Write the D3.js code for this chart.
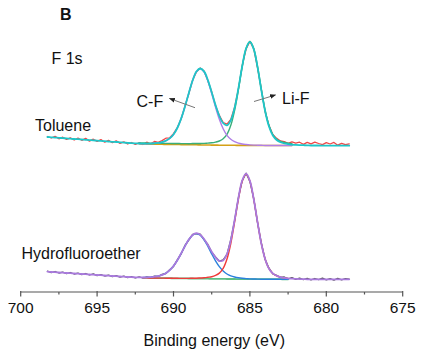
<!DOCTYPE html>
<html><head><meta charset="utf-8">
<script src="https://cdn.jsdelivr.net/npm/d3@7"></script>
<style>body{margin:0;background:#fff}svg{display:block}text{font-family:"Liberation Sans",Arial,sans-serif;fill:#111}</style>
</head><body>
<svg id="c" width="428" height="360"></svg>
<script>
// Binding energy grid (eV)
const energy = [698.25,698.0,697.75,697.5,697.25,697.0,696.75,696.5,696.25,696.0,695.75,695.5,695.25,695.0,694.75,694.5,694.25,694.0,693.75,693.5,693.25,693.0,692.75,692.5,692.25,692.0,691.75,691.5,691.25,691.0,690.75,690.5,690.25,690.0,689.75,689.5,689.25,689.0,688.75,688.5,688.25,688.0,687.75,687.5,687.25,687.0,686.75,686.5,686.25,686.0,685.75,685.5,685.25,685.0,684.75,684.5,684.25,684.0,683.75,683.5,683.25,683.0,682.75,682.5,682.25,682.0,681.75,681.5,681.25,681.0,680.75,680.5,680.25,680.0,679.75,679.5,679.25,679.0,678.75,678.5];

// Toluene (offset intensity, a.u.)
const tolueneRaw = [155.5,154.0,155.6,153.2,154.8,152.6,154.1,152.0,153.9,151.7,153.6,150.9,152.8,150.6,152.4,149.8,151.6,149.3,151.1,148.6,150.2,148.0,149.5,147.6,149.2,147.5,149.8,148.0,150.5,149.6,151.4,153.8,154.2,158.3,164.5,173.0,185.9,198.3,211.8,220.0,224.0,220.9,211.3,200.2,186.4,176.6,169.5,167.8,172.5,184.8,203.2,226.5,243.0,250.6,243.4,224.2,202.4,180.0,166.4,157.5,153.6,151.0,150.4,148.6,150.2,148.9,149.8,147.7,149.6,148.2,149.9,148.5,147.4,149.3,148.0,149.6,146.8,148.7,147.3,148.2];
const tolueneBg = [155.0,154.7,154.4,154.2,153.9,153.6,153.3,153.0,152.8,152.5,152.2,151.9,151.6,151.4,151.1,150.8,150.5,150.2,150.0,149.7,149.4,149.1,148.8,148.6,148.3,148.0,147.9,147.8,147.8,147.7,147.7,147.6,147.6,147.5,147.5,147.4,147.4,147.3,147.3,147.2,147.1,147.0,147.0,146.9,146.9,146.8,146.8,146.7,146.7,146.7,146.6,146.6,146.6,146.5,146.5,146.5,146.5,146.5,146.5,146.5,146.5,146.5,146.5,146.5,146.5,146.5,146.5,146.5,146.5,146.5,146.5,146.5,146.4,146.4,146.4,146.4,146.3,146.3,146.3,146.3];
const tolueneCF = [0,0,0,0,0,0,0,0,0,0,0,0,0,0,0,0,0,0,0,0,0,0,0,0,0.2,0.3,0.4,0.6,0.9,1.4,2.2,3.6,6,10,16.5,26,38,51.5,64,73,76,73,64,51.5,38,26,16.5,10,6,3.6,2.2,1.4,0.9,0.6,0.4,0.3,0.2,0,0,0,0,0,0,0,0,0,0,0,0,0,0,0,0,0,0,0,0,0,0,0];
const tolueneLiF = [0,0,0,0,0,0,0,0,0,0,0,0,0,0,0,0,0,0,0,0,0,0,0,0,0,0,0,0,0,0,0,0,0,0,0,0,0,0,0.2,0.3,0.4,0.6,0.9,1.3,2.0,3.2,5.5,10,19,34,55,78,96,103,96,78,55,34,19,10,5.5,3.2,2.0,1.3,0.9,0.6,0.4,0.3,0.2,0,0,0,0,0,0,0,0,0,0,0];

// Hydrofluoroether
const hfeRaw = [20.8,19.4,20.5,19.0,19.9,18.4,19.5,18.0,18.9,17.4,18.5,17.0,18.1,16.4,17.3,16.0,16.9,15.3,16.4,14.9,15.9,14.4,15.4,14.0,15.1,14.0,15.2,14.3,15.9,15.5,17.6,18.5,22.3,25.6,32.2,38.1,46.5,51.8,57.6,58.4,57.8,52.4,47.5,39.9,35.1,30.8,32.2,37.6,52.3,71.6,94.7,111.3,118.8,110.6,93.5,69.4,48.8,32.4,23.8,18.2,16.7,14.5,15.0,13.2,14.4,12.6,13.9,12.3,13.6,12.1,13.5,12.4,13.8,12.2,13.4,11.9,13.6,12.2,13.3,12.9];
const hfeBg = [20.3,20.0,19.8,19.5,19.3,19.0,18.8,18.5,18.3,18.0,17.8,17.5,17.3,17.0,16.8,16.5,16.3,16.0,15.8,15.5,15.3,15.0,14.8,14.6,14.4,14.2,14.1,14.0,14.0,13.9,13.9,13.8,13.8,13.7,13.7,13.6,13.6,13.5,13.5,13.4,13.4,13.3,13.3,13.2,13.2,13.1,13.1,13.0,13.0,13.0,12.9,12.9,12.9,12.8,12.8,12.8,12.8,12.8,12.8,12.8,12.8,12.8,12.7,12.7,12.7,12.7,12.7,12.7,12.7,12.7,12.7,12.7,12.7,12.7,12.7,12.7,12.7,12.7,12.7,12.7];
const hfeCF = [0,0,0,0,0,0,0,0,0,0,0,0,0,0,0,0,0,0,0,0,0,0,0,0.1,0.2,0.3,0.5,0.8,1.3,2,3.2,5,8,12.3,18,25,32.3,38.8,43.3,45,43.3,38.8,32.3,25,18,12.3,8,5,3.2,2,1.3,0.8,0.5,0.3,0.2,0.1,0,0,0,0,0,0,0,0,0,0,0,0,0,0,0,0,0,0,0,0,0,0,0,0];
const hfeLiF = [0,0,0,0,0,0,0,0,0,0,0,0,0,0,0,0,0,0,0,0,0,0,0,0,0,0,0,0,0,0,0,0,0,0,0,0,0,0.15,0.25,0.4,0.6,0.9,1.4,2.1,3.4,5.8,10.5,20,35.5,57,80,98,105,98,80,57,35.5,20,10.5,5.8,3.4,2.1,1.4,0.9,0.6,0.4,0.25,0.15,0,0,0,0,0,0,0,0,0,0,0,0];

const xTicks = [700,695,690,685,680,675];
const xMinorTicks = [697.5,692.5,687.5,682.5,677.5];

const svg = d3.select("#c");
const x = d3.scaleLinear().domain([700,675]).range([20.7,402.7]);
const y = d3.scaleLinear().domain([0,292]).range([292,0]);

function pts(vals){ return energy.map((e,i)=>[e, vals[i]]); }
function sum(...arrs){ return energy.map((e,i)=>arrs.reduce((s,a)=>s+a[i],0)); }
function win(p, hi, lo){ return p.filter(d=>d[0]<=hi && d[0]>=lo); }

const lineRaw = d3.line().x(d=>x(d[0])).y(d=>y(d[1]));
const lineSm = d3.line().x(d=>x(d[0])).y(d=>y(d[1])).curve(d3.curveCatmullRom);

function draw(p, gen, color, w){
  svg.append("path").attr("d", gen(p)).attr("fill","none").attr("stroke",color)
    .attr("stroke-width",w).attr("stroke-linejoin","round").attr("stroke-linecap","round");
}

// Toluene
draw(pts(tolueneRaw), lineRaw, "#f04848", 1.3);
draw(win(pts(tolueneBg),692.25,682.25), lineSm, "#d4a017", 1.6);
draw(win(pts(sum(tolueneBg,tolueneLiF)).map(d=>[d[0],d[1]+1]),692.25,682.25), lineSm, "#3aae7a", 1.4);
draw(win(pts(sum(tolueneBg,tolueneCF)),692.25,682.25), lineSm, "#b07ee6", 1.4);
draw(pts(sum(tolueneBg,tolueneCF,tolueneLiF)), lineSm, "#1ec6c9", 1.8);

// Hydrofluoroether
draw(pts(hfeRaw), lineRaw, "#555555", 1.3);
draw(win(pts(hfeBg),692.0,682.5), lineSm, "#5cbf85", 1.8);
draw(win(pts(sum(hfeBg,hfeCF)),692.0,682.5), lineSm, "#2a80dc", 1.4);
draw(win(pts(sum(hfeBg,hfeLiF)),692.0,682.5), lineSm, "#f03a3a", 1.4);
draw(pts(sum(hfeBg,hfeCF,hfeLiF)), lineSm, "#a97ade", 1.8);

// Axis
const axis = svg.append("g");
axis.append("line").attr("x1",x(700)).attr("x2",x(675)).attr("y1",292).attr("y2",292)
  .attr("stroke","#555").attr("stroke-width",1.2);
xTicks.forEach(t=>{
  axis.append("line").attr("x1",x(t)).attr("x2",x(t)).attr("y1",291).attr("y2",296.5)
    .attr("stroke","#555").attr("stroke-width",1.2);
  axis.append("text").attr("x",x(t)).attr("y",312.5).attr("text-anchor","middle")
    .attr("font-size",15.5).text(t);
});
xMinorTicks.forEach(t=>{
  axis.append("line").attr("x1",x(t)).attr("x2",x(t)).attr("y1",292).attr("y2",294.5)
    .attr("stroke","#555").attr("stroke-width",1.2);
});
svg.append("text").attr("x",214.3).attr("y",345.5).attr("text-anchor","middle")
  .attr("font-size",16).text("Binding energy (eV)");

// Labels
svg.append("text").attr("x",60).attr("y",20).attr("font-size",16).attr("font-weight","bold").text("B");
svg.append("text").attr("x",51.5).attr("y",64).attr("font-size",16).text("F 1s");
svg.append("text").attr("x",35).attr("y",130.5).attr("font-size",16).text("Toluene");
svg.append("text").attr("x",136.5).attr("y",107).attr("font-size",16).text("C-F");
svg.append("text").attr("x",282).attr("y",104).attr("font-size",16).text("Li-F");
svg.append("text").attr("x",21.5).attr("y",258.5).attr("font-size",16).text("Hydrofluoroether");

// Arrows
const defs = svg.append("defs");
defs.append("marker").attr("id","ah").attr("viewBox","0 0 10 10").attr("refX",9).attr("refY",5)
  .attr("markerWidth",6).attr("markerHeight",6).attr("orient","auto")
  .append("path").attr("d","M0,1 L10,5 L0,9 Z").attr("fill","#222");
svg.append("line").attr("x1",195).attr("y1",107.7).attr("x2",169.5).attr("y2",98.5)
  .attr("stroke","#777").attr("stroke-width",1).attr("marker-end","url(#ah)");
svg.append("line").attr("x1",254).attr("y1",101.5).attr("x2",275.5).attr("y2",95)
  .attr("stroke","#777").attr("stroke-width",1).attr("marker-end","url(#ah)");
</script>
</body></html>
